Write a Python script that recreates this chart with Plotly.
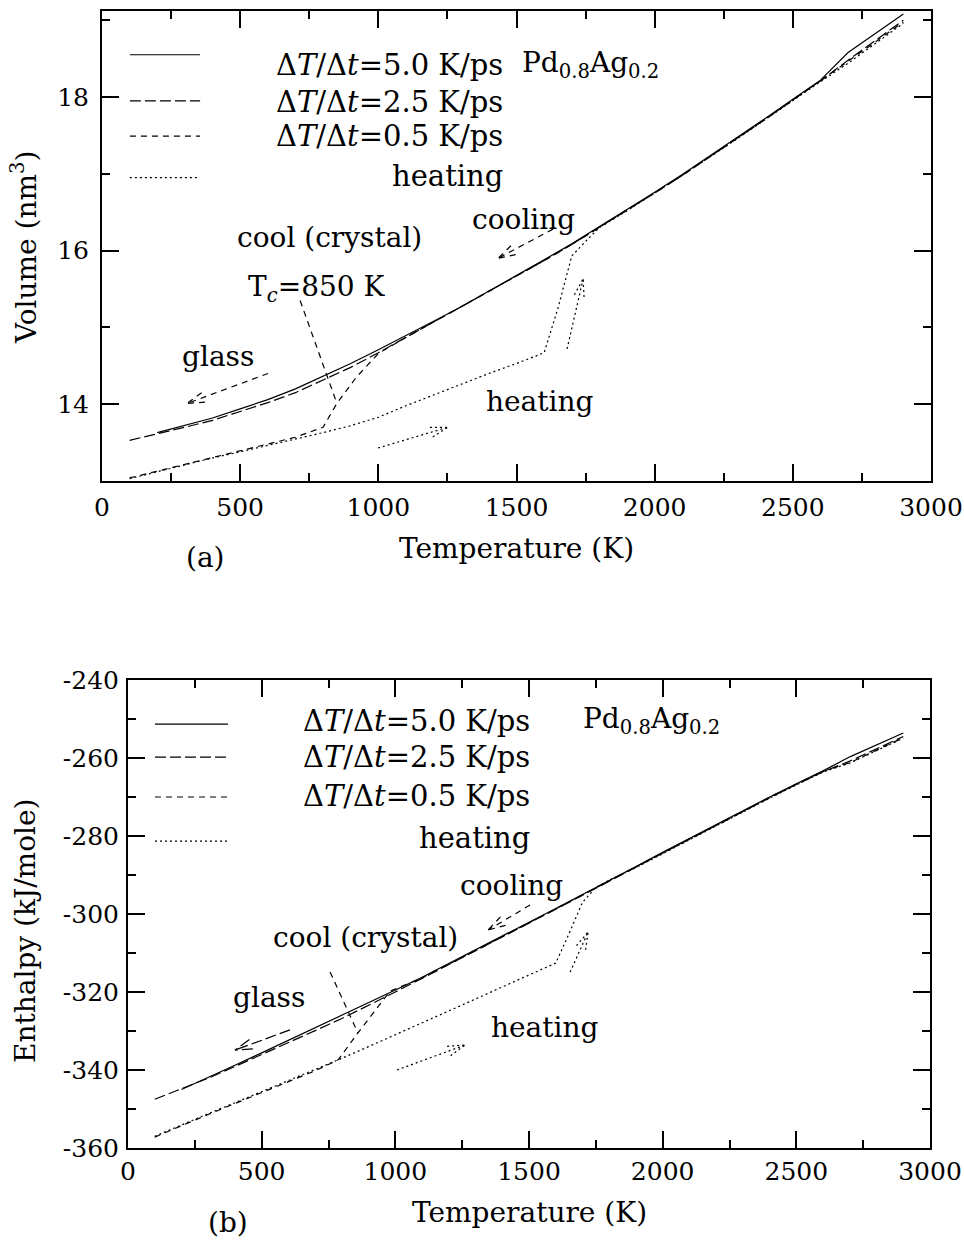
import math
import plotly.graph_objects as go

# ---------------- data: panel (a) Volume (nm^3) vs Temperature (K) ----------------
T_a_50 = [200, 300, 400, 500, 600, 700, 800, 900, 1000, 1100, 1200, 1300, 1400, 1500,
          1600, 1700, 1800, 1900, 2000, 2100, 2200, 2300, 2400, 2500, 2600, 2700, 2800, 2900]
V_a_50 = [13.63, 13.72, 13.82, 13.94, 14.06, 14.20, 14.36, 14.53, 14.71, 14.89, 15.08, 15.27,
          15.47, 15.67, 15.88, 16.09, 16.31, 16.53, 16.76, 16.99, 17.23, 17.47, 17.72, 17.97,
          18.22, 18.58, 18.83, 19.08]

T_a_25 = [100, 200, 300, 400, 500, 600, 700, 800, 900, 1000, 1100, 1200, 1300, 1400, 1500,
          1600, 1700, 1800, 1900, 2000, 2100, 2200, 2300, 2400, 2500, 2600, 2700, 2800, 2900]
V_a_25 = [13.53, 13.61, 13.70, 13.79, 13.90, 14.02, 14.15, 14.31, 14.48, 14.67, 14.87, 15.07,
          15.26, 15.46, 15.66, 15.87, 16.08, 16.30, 16.52, 16.75, 16.98, 17.22, 17.46, 17.71,
          17.96, 18.21, 18.48, 18.74, 19.00]

T_a_05 = [100, 200, 300, 400, 500, 600, 700, 800, 850, 920, 1000, 1100, 1200, 1300, 1400,
          1500, 1600, 1700, 1800, 1900, 2000, 2100, 2200, 2300, 2400, 2500, 2600, 2700, 2800, 2900]
V_a_05 = [13.04, 13.13, 13.22, 13.31, 13.40, 13.48, 13.57, 13.70, 14.01, 14.35, 14.66, 14.87,
          15.07, 15.26, 15.46, 15.66, 15.87, 16.08, 16.30, 16.52, 16.75, 16.98, 17.22, 17.46,
          17.71, 17.96, 18.21, 18.46, 18.72, 18.98]

T_a_heat = [100, 200, 300, 400, 500, 600, 700, 800, 900, 1000, 1100, 1200, 1300, 1400, 1500,
            1600, 1650, 1700, 1750, 1800, 1900, 2000, 2100, 2200, 2300, 2400, 2500, 2600, 2700,
            2800, 2900]
V_a_heat = [13.03, 13.12, 13.21, 13.30, 13.38, 13.46, 13.55, 13.63, 13.72, 13.83, 13.98, 14.12,
            14.27, 14.40, 14.53, 14.67, 15.25, 15.93, 16.12, 16.30, 16.52, 16.75, 16.98, 17.22,
            17.46, 17.71, 17.96, 18.20, 18.44, 18.70, 18.96]

# ---------------- data: panel (b) Enthalpy (kJ/mole) vs Temperature (K) ----------------
T_b_50 = T_a_50
H_b_50 = [-345.0, -342.0, -338.8, -335.6, -332.4, -329.2, -326.1, -322.8, -319.5, -316.2,
          -312.7, -309.3, -305.8, -302.2, -298.6, -295.0, -291.3, -287.8, -284.2, -280.6,
          -277.0, -273.5, -270.0, -266.6, -263.3, -259.7, -256.6, -253.6]

T_b_25 = T_a_25
H_b_25 = [-347.5, -344.8, -342.1, -339.1, -336.1, -333.0, -329.9, -326.8, -323.5, -320.0,
          -316.5, -313.0, -309.5, -306.0, -302.4, -298.8, -295.2, -291.5, -288.0, -284.4,
          -280.8, -277.2, -273.7, -270.2, -266.8, -263.5, -260.8, -257.7, -254.5]

T_b_05 = [100, 200, 300, 400, 500, 600, 700, 786, 820, 860, 980, 1100, 1200, 1300, 1400,
          1500, 1600, 1700, 1800, 1900, 2000, 2100, 2200, 2300, 2400, 2500, 2600, 2700, 2800, 2900]
H_b_05 = [-357.2, -354.2, -351.4, -348.6, -345.8, -343.0, -340.2, -337.4, -334.1, -330.5,
          -319.8, -316.4, -312.9, -309.4, -305.9, -302.3, -298.7, -295.1, -291.4, -287.9,
          -284.3, -280.7, -277.1, -273.6, -270.1, -266.7, -263.4, -261.2, -258.0, -254.8]

T_b_heat = T_a_heat
H_b_heat = [-357.0, -354.0, -351.2, -348.4, -345.6, -342.8, -340.0, -337.0, -334.0, -331.0,
            -328.0, -324.9, -321.8, -318.7, -315.6, -312.6, -305.0, -297.0, -293.2, -291.3,
            -288.1, -284.5, -280.9, -277.3, -273.8, -270.3, -266.9, -263.6, -261.3, -258.1,
            -254.9]

# tick labels
x_ticks = [0, 500, 1000, 1500, 2000, 2500, 3000]
x_ticklabels = ["0", "500", "1000", "1500", "2000", "2500", "3000"]
ya_ticks = [14, 16, 18]
ya_ticklabels = ["14", "16", "18"]
yb_ticks = [-360, -340, -320, -300, -280, -260, -240]
yb_ticklabels = ["-360", "-340", "-320", "-300", "-280", "-260", "-240"]

legend_labels = ["Δ<i>T</i>/Δ<i>t</i>=5.0 K/ps", "Δ<i>T</i>/Δ<i>t</i>=2.5 K/ps",
                 "Δ<i>T</i>/Δ<i>t</i>=0.5 K/ps", "heating"]
alloy = "Pd<sub>0.8</sub>Ag<sub>0.2</sub>"

# ---------------- styling ----------------
W, H = 964, 1243
FONT = "DejaVu Serif"
DASH = ["solid", "11px,4px", "6px,5px", "2px,3px"]
LW = 1.2

A_px = dict(x0=102, x1=931, y0=11, y1=481)     # panel (a) plot box in pixels
B_px = dict(x0=128, x1=930, y0=680, y1=1148)   # panel (b) plot box in pixels
A_range = dict(x=[0, 3000], y=[13, 19.12])
B_range = dict(x=[0, 3000], y=[-360, -240])


def pscale(box, rng):
    sx = (box["x1"] - box["x0"]) / (rng["x"][1] - rng["x"][0])
    sy = (box["y1"] - box["y0"]) / (rng["y"][1] - rng["y"][0])
    return sx, sy


fig = go.Figure()

series = [
    ("x", "y", T_a_50, V_a_50, 0), ("x", "y", T_a_25, V_a_25, 1),
    ("x", "y", T_a_05, V_a_05, 2), ("x", "y", T_a_heat, V_a_heat, 3),
    ("x2", "y2", T_b_50, H_b_50, 0), ("x2", "y2", T_b_25, H_b_25, 1),
    ("x2", "y2", T_b_05, H_b_05, 2), ("x2", "y2", T_b_heat, H_b_heat, 3),
]
for xa, ya, xs, ys, k in series:
    fig.add_trace(go.Scatter(x=xs, y=ys, mode="lines", xaxis=xa, yaxis=ya,
                             line=dict(color="black", width=LW, dash=DASH[k]),
                             showlegend=False, hoverinfo="skip"))

shapes = []
annotations = []


def arrow(xr, yr, scale, x0, y0, x1, y1, dash, head=True, hl=18, ang=16):
    sx, sy = scale
    shapes.append(dict(type="line", xref=xr, yref=yr, x0=x0, y0=y0, x1=x1, y1=y1,
                       line=dict(color="black", width=LW, dash=dash)))
    if not head:
        return
    dx, dy = (x1 - x0) * sx, (y1 - y0) * sy
    L = math.hypot(dx, dy)
    ux, uy = dx / L, dy / L
    for s in (1, -1):
        a = math.radians(ang) * s
        rx = ux * math.cos(a) - uy * math.sin(a)
        ry = ux * math.sin(a) + uy * math.cos(a)
        shapes.append(dict(type="line", xref=xr, yref=yr,
                           x0=x1 - rx * hl / sx, y0=y1 - ry * hl / sy, x1=x1, y1=y1,
                           line=dict(color="black", width=LW, dash=dash)))


def label(xr, yr, x, y, text, size=28, xanchor="center"):
    annotations.append(dict(xref=xr, yref=yr, x=x, y=y, text=text, showarrow=False,
                            xanchor=xanchor, yanchor="middle",
                            font=dict(family=FONT, size=size, color="black")))


def plabel(px, py, text, size=28, angle=0):
    annotations.append(dict(xref="paper", yref="paper", x=px / W, y=1 - py / H, text=text,
                            showarrow=False, xanchor="center", yanchor="middle",
                            textangle=angle, font=dict(family=FONT, size=size, color="black")))


sa = pscale(A_px, A_range)
sb = pscale(B_px, B_range)

# ---- panel (a) annotations ----
leg_a_line = [18.55, 17.95, 17.49, 16.95]
leg_a_text = [18.42, 17.93, 17.49, 16.97]
for i in range(4):
    shapes.append(dict(type="line", xref="x", yref="y", x0=101, x1=355,
                       y0=leg_a_line[i], y1=leg_a_line[i],
                       line=dict(color="black", width=LW, dash=DASH[i])))
    label("x", "y", 1459, leg_a_text[i], legend_labels[i], size=29, xanchor="right")
label("x", "y", 1512, 18.42, alloy, xanchor="left")
label("x", "y", 825, 16.17, "cool (crystal)")
label("x", "y", 778, 15.51, "T<sub><i>c</i></sub>=850 K")
label("x", "y", 420, 14.62, "glass")
label("x", "y", 1524, 16.41, "cooling")
label("x", "y", 1585, 14.03, "heating")
arrow("x", "y", sa, 601, 14.40, 308, 14.01, DASH[2])
arrow("x", "y", sa, 1632, 16.28, 1433, 15.90, DASH[2])
arrow("x", "y", sa, 999, 13.43, 1252, 13.70, DASH[3])
arrow("x", "y", sa, 1683, 14.72, 1741, 15.63, DASH[3])
arrow("x", "y", sa, 717, 15.35, 850, 14.01, DASH[2], head=False)

# ---- panel (b) annotations ----
leg_b_line = [-251.3, -259.8, -270.0, -281.3]
leg_b_text = [-250.5, -259.8, -269.8, -280.5]
for i in range(4):
    shapes.append(dict(type="line", xref="x2", yref="y2", x0=101, x1=374,
                       y0=leg_b_line[i], y1=leg_b_line[i],
                       line=dict(color="black", width=LW, dash=DASH[i])))
    label("x2", "y2", 1511, leg_b_text[i], legend_labels[i], size=29, xanchor="right")
label("x2", "y2", 1695, -250.5, alloy, xanchor="left")
label("x2", "y2", 1433, -292.8, "cooling")
label("x2", "y2", 887, -305.9, "cool (crystal)")
label("x2", "y2", 527, -321.5, "glass")
label("x2", "y2", 1560, -329.2, "heating")
arrow("x2", "y2", sb, 606, -329.7, 400, -334.9, DASH[1])
arrow("x2", "y2", sb, 1504, -297.7, 1347, -304.1, DASH[2])
arrow("x2", "y2", sb, 1006, -340.0, 1261, -333.6, DASH[3])
arrow("x2", "y2", sb, 1654, -314.9, 1721, -304.6, DASH[3])
arrow("x2", "y2", sb, 756, -314.9, 860, -330.5, DASH[2], head=False)

# ---- axis titles / panel tags ----
plabel(25, 248, "Volume (nm<sup>3</sup>)", angle=-90)
plabel(516, 548, "Temperature (K)")
plabel(205, 557, "(a)")
plabel(25, 931, "Enthalpy (kJ/mole)", angle=-90)
plabel(529, 1212, "Temperature (K)")
plabel(228, 1222, "(b)")

axis_common = dict(showline=True, linecolor="black", linewidth=2, mirror="allticks",
                   ticks="inside", ticklen=17, tickwidth=2, tickcolor="black",
                   showgrid=False, zeroline=False, fixedrange=True, automargin=False,
                   tickfont=dict(family=FONT, size=25, color="black"))

fig.update_layout(
    width=W, height=H, margin=dict(l=0, r=0, t=0, b=0, autoexpand=False),
    plot_bgcolor="white", paper_bgcolor="white", showlegend=False,
    xaxis=dict(axis_common, domain=[A_px["x0"] / W, A_px["x1"] / W], anchor="y",
               range=A_range["x"], tickvals=x_ticks, ticktext=x_ticklabels,
               ticklabelstandoff=3,
               minor=dict(dtick=250, tick0=0, ticks="inside", ticklen=8, tickwidth=2,
                          tickcolor="black")),
    yaxis=dict(axis_common, domain=[1 - A_px["y1"] / H, 1 - A_px["y0"] / H], anchor="x",
               range=A_range["y"], tickvals=ya_ticks, ticktext=ya_ticklabels,
               ticklabelstandoff=6,
               minor=dict(dtick=1, tick0=13, ticks="inside", ticklen=8, tickwidth=2,
                          tickcolor="black")),
    xaxis2=dict(axis_common, domain=[B_px["x0"] / W, B_px["x1"] / W], anchor="y2",
                range=B_range["x"], tickvals=x_ticks, ticktext=x_ticklabels,
                ticklabelstandoff=0,
                minor=dict(dtick=250, tick0=0, ticks="inside", ticklen=8, tickwidth=2,
                           tickcolor="black")),
    yaxis2=dict(axis_common, domain=[1 - B_px["y1"] / H, 1 - B_px["y0"] / H], anchor="x2",
                range=B_range["y"], tickvals=yb_ticks, ticktext=yb_ticklabels,
                ticklabelstandoff=2,
                minor=dict(dtick=10, tick0=-360, ticks="inside", ticklen=8, tickwidth=2,
                           tickcolor="black")),
    shapes=shapes, annotations=annotations,
)

fig.write_html("out.html")
